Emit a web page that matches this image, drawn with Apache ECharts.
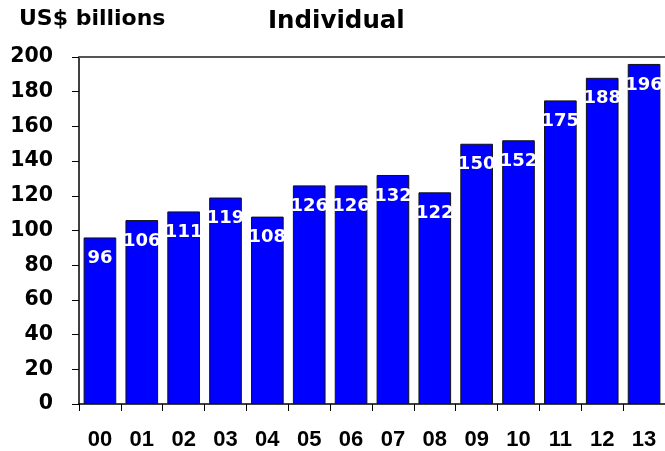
<!DOCTYPE html>
<html>
<head>
<meta charset="utf-8">
<script src="https://cdn.jsdelivr.net/npm/echarts@6/dist/echarts.min.js"></script>
<style>
  html, body { margin: 0; padding: 0; background: #fff; }
  #chart { width: 665px; height: 451px; }
</style>
</head>
<body>
<div id="chart"></div>
<script>
// Years (two-digit) and individual giving, US$ billions
const years = ['00', '01', '02', '03', '04', '05', '06', '07', '08', '09', '10', '11', '12', '13'];
const individual = [96, 106, 111, 119, 108, 126, 126, 132, 122, 150, 152, 175, 188, 196];
const yTicks = { min: 0, max: 200, step: 20 };

const chart = echarts.init(document.getElementById('chart'), null, { renderer: 'canvas' });

chart.setOption({
  animation: false,
  backgroundColor: '#ffffff',
  title: [
    {
      text: 'Individual',
      left: 263,
      top: 4,
      textStyle: { fontFamily: 'DejaVu Sans', fontWeight: 'bold', fontSize: 24.5, color: '#000' }
    },
    {
      text: 'US$ billions',
      left: 14,
      top: 3,
      textStyle: { fontFamily: 'DejaVu Sans', fontWeight: 'bold', fontSize: 22, color: '#000' }
    }
  ],
  grid: { left: 79, top: 57, width: 590, height: 347, containLabel: false },
  xAxis: [
    {
      type: 'category',
      data: years,
      position: 'bottom',
      axisLine: { show: true, lineStyle: { color: '#000', width: 1.5 } },
      axisTick: { show: true, length: 7, lineStyle: { color: '#000', width: 1 } },
      axisLabel: {
        margin: 25,
        fontFamily: 'Liberation Sans',
        fontWeight: 'bold',
        fontSize: 22,
        color: '#000'
      },
      splitLine: { show: false }
    },
    {
      // frame line along the top of the plot
      type: 'category',
      data: years,
      position: 'top',
      axisLine: { show: true, lineStyle: { color: '#555', width: 2 } },
      axisTick: { show: false },
      axisLabel: { show: false }
    }
  ],
  yAxis: {
    type: 'value',
    min: yTicks.min,
    max: yTicks.max,
    interval: yTicks.step,
    axisLine: { show: true, lineStyle: { color: '#000', width: 1.5 } },
    axisTick: { show: true, length: 7, lineStyle: { color: '#000', width: 1 } },
    axisLabel: {
      margin: 26,
      fontFamily: 'DejaVu Sans',
      fontWeight: 'bold',
      fontSize: 20.5,
      color: '#000'
    },
    splitLine: { show: false }
  },
  series: [
    {
      type: 'bar',
      data: individual,
      xAxisIndex: 0,
      barCategoryGap: '22%',
      itemStyle: { color: '#0000ff', borderColor: '#111', borderWidth: 1 },
      label: {
        show: true,
        position: 'insideTop',
        distance: 12,
        fontFamily: 'DejaVu Sans',
        fontWeight: 'bold',
        fontSize: 18,
        color: '#fff'
      }
    }
  ]
});
</script>
</body>
</html>
